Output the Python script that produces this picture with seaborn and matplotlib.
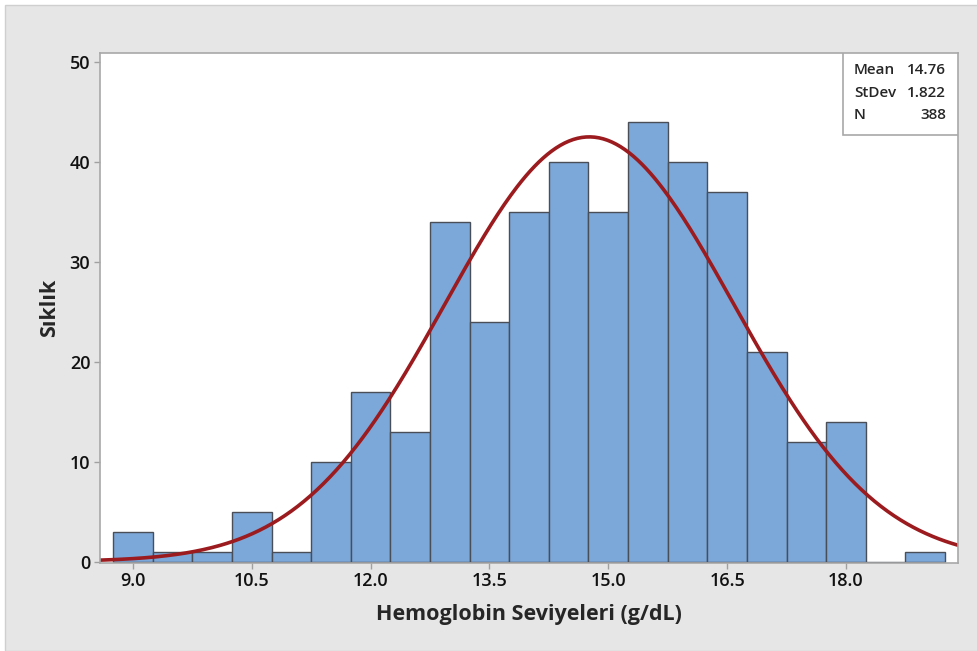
import numpy as np
import pandas as pd
import matplotlib
matplotlib.use("Agg")
import matplotlib.pyplot as plt
import seaborn as sns
from matplotlib.patches import Rectangle

# ---- data ----
bin_centers = [9.0, 9.5, 10.0, 10.5, 11.0, 11.5, 12.0, 12.5, 13.0, 13.5, 14.0,
               14.5, 15.0, 15.5, 16.0, 16.5, 17.0, 17.5, 18.0, 18.5, 19.0]
counts = [3, 1, 1, 5, 1, 10, 17, 13, 34, 24, 35,
          40, 35, 44, 40, 37, 21, 12, 14, 0, 1]
bin_width = 0.5
mean_val = 14.76
sd_val = 1.822
n_val = 388
x_ticks = [9.0, 10.5, 12.0, 13.5, 15.0, 16.5, 18.0]
y_ticks = [0, 10, 20, 30, 40, 50]
x_label = "Hemoglobin Seviyeleri (g/dL)"
y_label = "Sıklık"

sns.set_style("white")
plt.rcParams['font.family'] = ['Open Sans', 'DejaVu Sans']

fig = plt.figure(figsize=(9.77, 6.51), dpi=100, facecolor="white")
fig.patches.append(Rectangle((5/977, 0), 1, 1 - 5/651, transform=fig.transFigure,
                             facecolor="#e6e6e6", edgecolor="#cfcfcf", lw=1, zorder=-10))
ax = fig.add_axes([100/977, 1 - 562.7/651, (958 - 100)/977, (562.7 - 52.7)/651])
ax.set_facecolor("white")

df = pd.DataFrame({"x": bin_centers, "w": counts})
sns.histplot(data=df, x="x", weights="w", binwidth=bin_width,
             binrange=(bin_centers[0] - bin_width/2, bin_centers[-1] + bin_width/2),
             ax=ax, color="#7ba7d9", edgecolor="#4a4f57", linewidth=1.0, alpha=1.0)

xs = np.linspace(8.58, 19.42, 400)
ys = n_val * bin_width / (sd_val * np.sqrt(2 * np.pi)) * np.exp(-0.5 * ((xs - mean_val) / sd_val) ** 2)
sns.lineplot(x=xs, y=ys, ax=ax, color="#9b1b1e", linewidth=2.6)

ax.set_xlim(8.584, 19.414)
ax.set_ylim(-0.12, 50.9)
ax.set_xticks(x_ticks)
ax.set_xticklabels([f"{t:.1f}" for t in x_ticks])
ax.set_yticks(y_ticks)
ax.tick_params(axis="both", which="both", direction="out", length=4, width=1,
               color="#a0a0a0", labelsize=13, pad=3, bottom=True, left=True,
               labelcolor="#111111")
for lab in ax.get_xticklabels() + ax.get_yticklabels():
    lab.set_fontweight("semibold")
for s in ax.spines.values():
    s.set_color("#a8a8a8")
    s.set_linewidth(1.2)

ax.set_xlabel(x_label, fontsize=15.5, fontweight="bold", labelpad=10)
ax.set_ylabel(y_label, fontsize=15.5, fontweight="bold", labelpad=7)

# stats box
box_l = (843 - 100) / (958 - 100)
box_b = (562.7 - 135) / (562.7 - 52.7)
ax.add_patch(Rectangle((box_l, box_b), 1 - box_l, 1 - box_b, transform=ax.transAxes,
                       facecolor="white", edgecolor="#a8a8a8", lw=1.2, zorder=5))
rows = [("Mean", f"{mean_val:.2f}"), ("StDev", f"{sd_val:.3f}"), ("N", f"{n_val}")]
for i, (k, v) in enumerate(rows):
    ypix = 70 + i * 22.5
    yax = (562.7 - ypix) / (562.7 - 52.7)
    ax.text((854 - 100) / 858, yax, k, transform=ax.transAxes, ha="left", va="center",
            fontsize=11, fontweight="semibold", zorder=6)
    ax.text((946 - 100) / 858, yax, v, transform=ax.transAxes, ha="right", va="center",
            fontsize=11, fontweight="semibold", zorder=6)

fig.savefig("out.png", dpi=100, facecolor=fig.get_facecolor())
